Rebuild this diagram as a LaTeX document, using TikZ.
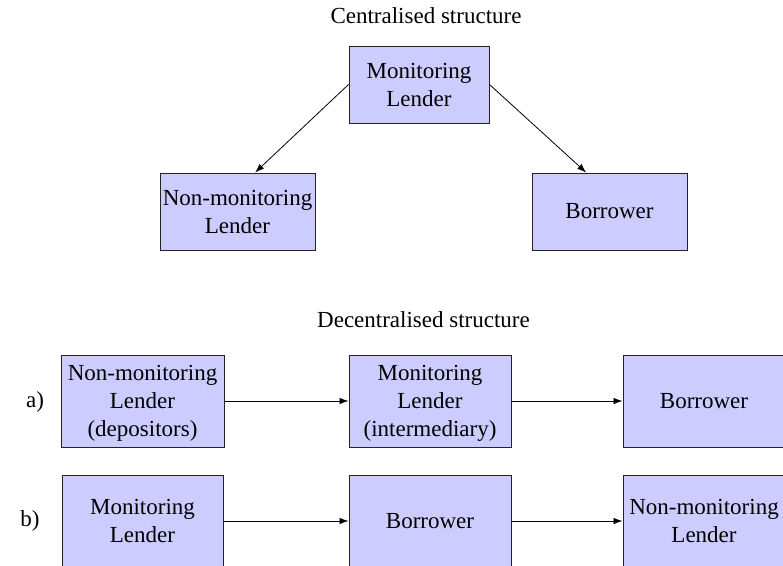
\documentclass[tikz,border=0pt]{standalone}
\usepackage{fontspec}
\setmainfont{Liberation Serif}
\usetikzlibrary{arrows.meta,calc}
\definecolor{boxfill}{RGB}{204,204,255}
\definecolor{boxline}{RGB}{35,35,35}
\begin{document}
\begin{tikzpicture}[x=1pt,y=-1pt,
  box/.style={draw=boxline, line width=1pt, fill=boxfill, rectangle, inner sep=0pt, align=center, font=\fontsize{23}{28}\selectfont},
  lowtext/.style={text depth=-4pt},
  titletext/.style={inner sep=0pt, anchor=base, font=\fontsize{23}{28}\selectfont},
  rowlabel/.style={inner sep=0pt, font=\fontsize{23}{28}\selectfont},
  arr/.style={draw=black, line width=0.8pt, -{Latex[length=9pt,width=6.5pt]}},
]
\useasboundingbox (0,0) rectangle (783,565);

% Centralised structure
\node[titletext] (t1) at (426,23) {Centralised structure};
\node[box, minimum width=140pt, minimum height=77pt] (ML) at (419,84.5) {Monitoring\\Lender};
\node[box, minimum width=155pt, minimum height=77pt] (NML) at (237.5,211.5) {Non-monitoring\\Lender};
\node[box, minimum width=155pt, minimum height=77pt] (BR) at (609.5,211.5) {Borrower};
\draw[arr] (ML.west) -- ($(NML.north west)!0.613!(NML.north east)$);
\draw[arr] (ML.east) -- ($(BR.north west)!0.35!(BR.north east)$);

% Decentralised structure
\node[titletext] (t2) at (423.5,327) {Decentralised structure};

% Row a
\node[rowlabel] (la) at (35,402) {a)};
\node[box, lowtext, minimum width=163pt, minimum height=92pt] (A1) at (142.5,401) {Non-monitoring\\Lender\\(depositors)};
\node[box, lowtext, minimum width=162pt, minimum height=92pt] (A2) at (430,401) {Monitoring\\Lender\\(intermediary)};
\node[box, minimum width=162pt, minimum height=92pt] (A3) at (704,401) {Borrower};
\draw[arr] (A1.east) -- (A2.west);
\draw[arr] (A2.east) -- (A3.west);

% Row b
\node[rowlabel] (lb) at (30,521) {b)};
\node[box, minimum width=161pt, minimum height=92pt] (B1) at (142.5,521) {Monitoring\\Lender};
\node[box, minimum width=162pt, minimum height=92pt] (B2) at (430,521) {Borrower};
\node[box, minimum width=162pt, minimum height=92pt] (B3) at (704,521) {Non-monitoring\\Lender};
\draw[arr] (B1.east) -- (B2.west);
\draw[arr] (B2.east) -- (B3.west);
\end{tikzpicture}
\end{document}
